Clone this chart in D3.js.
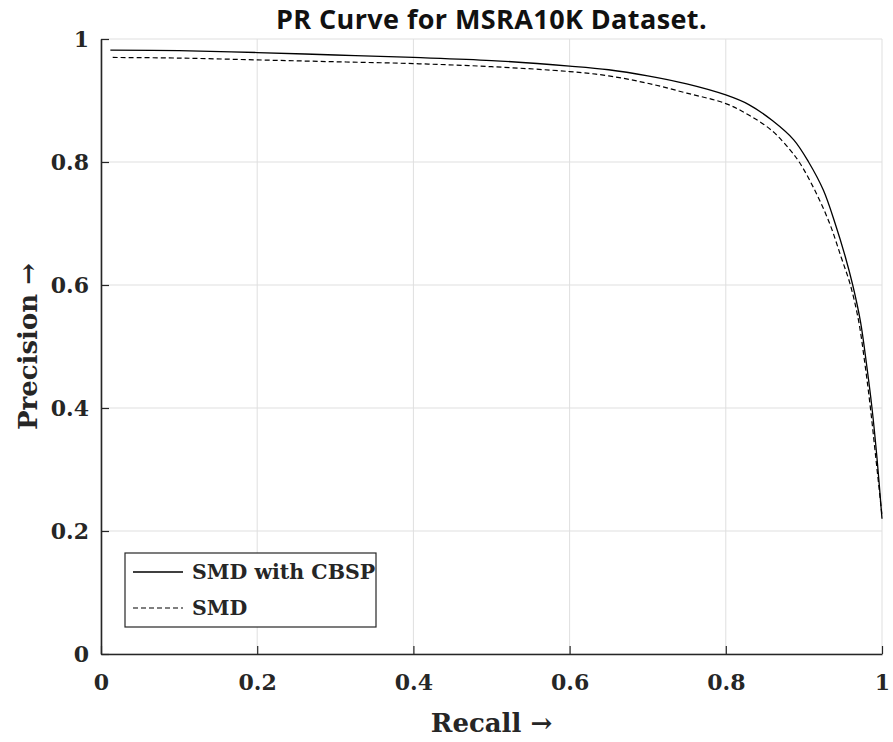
<!DOCTYPE html>
<html>
<head>
<meta charset="utf-8">
<script src="https://cdn.jsdelivr.net/npm/d3@7"></script>
<style>
  body { margin: 0; background: #fff; }
  svg text { fill: #262626; }
</style>
</head>
<body>
<div id="chart"></div>
<script>
// values
const titleText = "PR Curve for MSRA10K Dataset.";
const xTicks = [0, 0.2, 0.4, 0.6, 0.8, 1];
const yTicks = [0, 0.2, 0.4, 0.6, 0.8, 1];
const seriesNames = ["SMD with CBSP", "SMD"];

const recallCbsp = [0.012, 0.1, 0.2, 0.3, 0.4, 0.5, 0.6, 0.65, 0.7, 0.75, 0.8, 0.83, 0.86, 0.887, 0.906, 0.925, 0.94, 0.953, 0.9625, 0.9725, 0.98, 0.987, 0.9935, 1.0];
const precisionCbsp = [0.982, 0.981, 0.978, 0.974, 0.970, 0.965, 0.956, 0.950, 0.940, 0.927, 0.909, 0.893, 0.867, 0.836, 0.800, 0.754, 0.700, 0.646, 0.600, 0.540, 0.473, 0.402, 0.32, 0.22];

const recallSmd = [0.015, 0.1, 0.2, 0.3, 0.4, 0.5, 0.6, 0.65, 0.7, 0.75, 0.8, 0.83, 0.86, 0.882, 0.894, 0.914, 0.933, 0.9475, 0.9595, 0.970, 0.978, 0.985, 0.992, 1.0];
const precisionSmd = [0.970, 0.969, 0.966, 0.963, 0.960, 0.955, 0.947, 0.940, 0.928, 0.912, 0.895, 0.876, 0.850, 0.820, 0.800, 0.754, 0.700, 0.646, 0.600, 0.542, 0.473, 0.402, 0.32, 0.225];

const W = 893, H = 742;
const margin = {top: 39, right: 11, bottom: 88, left: 101},
    width = W - margin.left - margin.right,
    height = H - margin.top - margin.bottom;

const serif = "'DejaVu Serif', serif";

const svg = d3.select("#chart")
  .append("svg")
    .attr("width", W)
    .attr("height", H)
  .append("g")
    .attr("transform", `translate(${margin.left}, ${margin.top})`);

const x = d3.scaleLinear().domain([0, 1]).range([0, width]);
const y = d3.scaleLinear().domain([0, 1]).range([height, 0]);

// grid
svg.append("g")
  .selectAll("line")
  .data(xTicks)
  .join("line")
    .attr("x1", d => x(d)).attr("x2", d => x(d))
    .attr("y1", 0).attr("y2", height)
    .attr("stroke", "#dfdfdf").attr("stroke-width", 1);
svg.append("g")
  .selectAll("line")
  .data(yTicks)
  .join("line")
    .attr("x1", 0).attr("x2", width)
    .attr("y1", d => y(d)).attr("y2", d => y(d))
    .attr("stroke", "#dfdfdf").attr("stroke-width", 1);

// axes, ticks pointing inward like matlab
const xAxis = svg.append("g")
  .attr("transform", `translate(0, ${height})`)
  .call(d3.axisBottom(x).tickValues(xTicks).tickFormat(d3.format("")).tickSizeInner(-8).tickSizeOuter(0).tickPadding(20));
const yAxis = svg.append("g")
  .call(d3.axisLeft(y).tickValues(yTicks).tickFormat(d3.format("")).tickSizeInner(-8).tickSizeOuter(0).tickPadding(20));

[xAxis, yAxis].forEach(a => {
  a.select(".domain").attr("stroke", "#262626").attr("stroke-width", 1.6);
  a.selectAll(".tick line").attr("stroke", "#262626").attr("stroke-width", 1.2);
  a.selectAll(".tick text")
    .attr("font-family", serif)
    .attr("font-weight", "bold")
    .attr("font-size", 22)
    .attr("fill", "#222");
});
xAxis.selectAll(".tick text").attr("dy", "0.71em").attr("y", 20);
yAxis.selectAll(".tick text").attr("x", -12);

// curves
const line = d3.line()
  .x(d => x(d.r))
  .y(d => y(d.p))
  .curve(d3.curveCatmullRom.alpha(0.5));

const dataCbsp = recallCbsp.map((r, i) => ({r: r, p: precisionCbsp[i]}));
const dataSmd = recallSmd.map((r, i) => ({r: r, p: precisionSmd[i]}));

svg.append("path")
  .datum(dataSmd)
  .attr("fill", "none")
  .attr("stroke", "#000")
  .attr("stroke-width", 1.2)
  .attr("stroke-dasharray", "5,3")
  .attr("d", line);

svg.append("path")
  .datum(dataCbsp)
  .attr("fill", "none")
  .attr("stroke", "#000")
  .attr("stroke-width", 1.3)
  .attr("d", line);

// title and labels
svg.append("text")
  .attr("x", width / 2)
  .attr("y", -10)
  .attr("text-anchor", "middle")
  .attr("font-family", "'Open Sans', sans-serif")
  .attr("font-weight", "bold")
  .attr("font-size", 27)
  .attr("letter-spacing", 0.4)
  .style("fill", "#111")
  .text(titleText);

svg.append("text")
  .attr("x", width / 2)
  .attr("y", height + 78)
  .attr("text-anchor", "middle")
  .attr("font-family", serif)
  .attr("font-weight", "bold")
  .attr("font-size", 26)
  .text("Recall \u2192");

svg.append("text")
  .attr("transform", `translate(${37 - margin.left}, ${height / 2}) rotate(-90)`)
  .attr("text-anchor", "middle")
  .attr("font-family", serif)
  .attr("font-weight", "bold")
  .attr("font-size", 26)
  .text("Precision \u2192");

// legend
const legend = svg.append("g")
  .attr("transform", `translate(${125 - margin.left}, ${553 - margin.top})`);
legend.append("rect")
  .attr("width", 251)
  .attr("height", 74)
  .attr("fill", "#fff")
  .attr("stroke", "#262626")
  .attr("stroke-width", 1.2);

const items = legend.selectAll(".item")
  .data(seriesNames)
  .join("g")
    .attr("transform", (d, i) => `translate(0, ${19 + i * 36})`);
items.append("line")
  .attr("x1", 8).attr("x2", 58)
  .attr("stroke", "#000")
  .attr("stroke-width", (d, i) => i === 0 ? 1.3 : 1.1)
  .attr("stroke-dasharray", (d, i) => i === 0 ? null : "5,3");
items.append("text")
  .attr("x", 67)
  .attr("dy", "0.36em")
  .attr("font-family", serif)
  .attr("font-weight", "bold")
  .attr("font-size", 20.5)
  .text(d => d);
</script>
</body>
</html>
